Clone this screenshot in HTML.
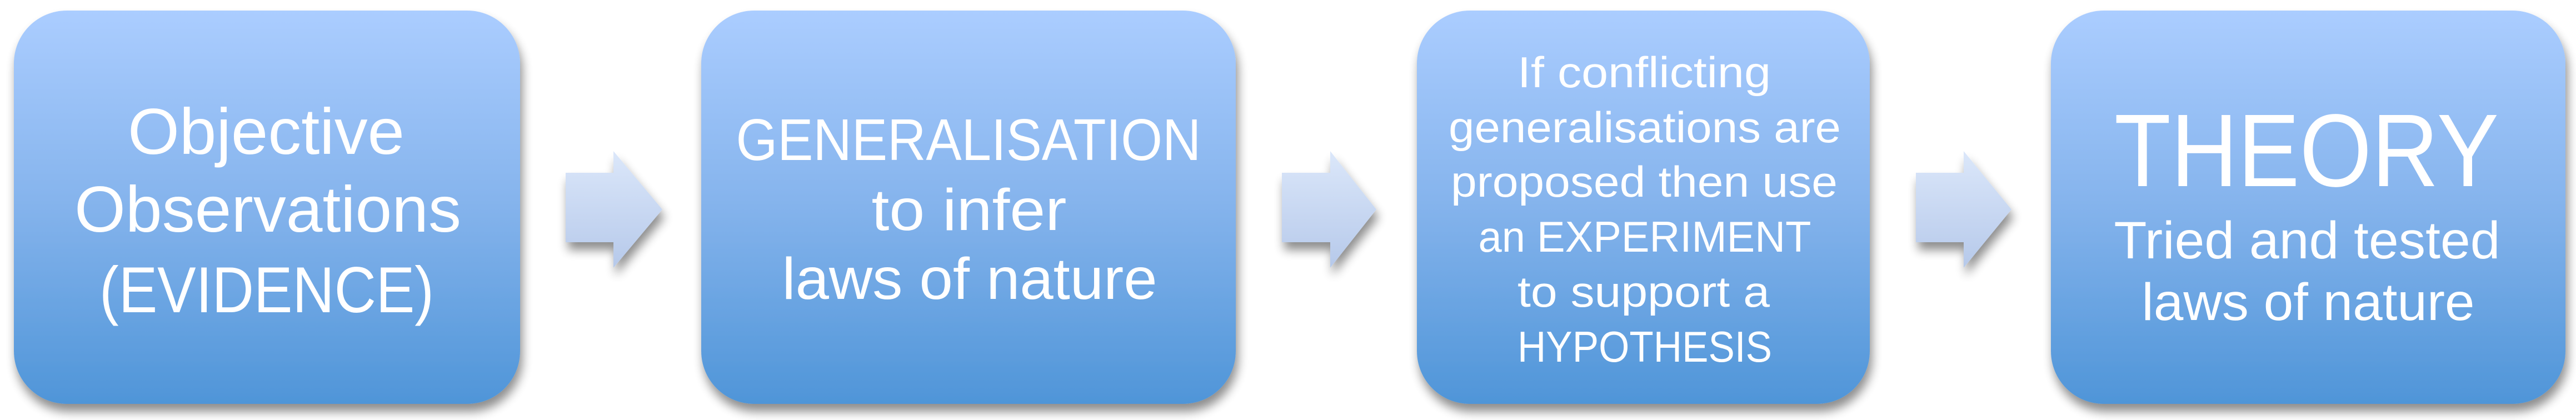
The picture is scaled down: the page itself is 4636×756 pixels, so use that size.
<!DOCTYPE html>
<html><head><meta charset="utf-8"><style>
html,body{margin:0;padding:0;background:#fff;width:4636px;height:756px;overflow:hidden}
svg{display:block}
text{font-family:"Liberation Sans",sans-serif;fill:#fff;text-anchor:middle}
</style></head><body>
<svg width="4636" height="756" viewBox="0 0 4636 756" xmlns="http://www.w3.org/2000/svg">
<defs>
<linearGradient id="bg" x1="0" y1="0" x2="0" y2="1">
<stop offset="0" stop-color="#abcdff"/><stop offset="0.5" stop-color="#84b3ec"/><stop offset="1" stop-color="#4f95d8"/>
</linearGradient>
<linearGradient id="ag" x1="0" y1="0" x2="0" y2="1">
<stop offset="0" stop-color="#dbe7fa"/><stop offset="1" stop-color="#b6c9ea"/>
</linearGradient>
<filter id="sh" x="-10%" y="-10%" width="120%" height="130%">
<feGaussianBlur in="SourceAlpha" stdDeviation="9"/>
<feOffset dx="4" dy="14" result="b"/>
<feComponentTransfer><feFuncA type="linear" slope="0.45"/></feComponentTransfer>
<feMerge><feMergeNode/><feMergeNode in="SourceGraphic"/></feMerge>
</filter>
</defs>
<g filter="url(#sh)">
<rect x="25" y="19" width="911" height="708" rx="95" ry="95" fill="url(#bg)"/>
<rect x="1262" y="19" width="962" height="708" rx="95" ry="95" fill="url(#bg)"/>
<rect x="2550" y="19" width="815" height="708" rx="95" ry="95" fill="url(#bg)"/>
<rect x="3691" y="19" width="926" height="708" rx="95" ry="95" fill="url(#bg)"/>
<polygon points="1018,311 1104,311 1104,272 1192,377 1104,482 1104,436 1018,436" fill="url(#ag)"/>
<polygon points="2307,311 2394,311 2394,272 2477,377 2394,482 2394,436 2307,436" fill="url(#ag)"/>
<polygon points="3448,311 3534,311 3534,272 3620,377 3534,482 3534,436 3448,436" fill="url(#ag)"/>
</g>
<g font-size="117">
<text x="479" y="277" textLength="498" lengthAdjust="spacingAndGlyphs">Objective</text>
<text x="482" y="417" textLength="696" lengthAdjust="spacingAndGlyphs">Observations</text>
<text x="480" y="562" textLength="602" lengthAdjust="spacingAndGlyphs">(EVIDENCE)</text>
</g>
<g font-size="106">
<text x="1743" y="288" textLength="837" lengthAdjust="spacingAndGlyphs">GENERALISATION</text>
<text x="1744" y="414" textLength="351" lengthAdjust="spacingAndGlyphs">to infer</text>
<text x="1745" y="538" textLength="675" lengthAdjust="spacingAndGlyphs">laws of nature</text>
</g>
<g font-size="78">
<text x="2959" y="157" textLength="456" lengthAdjust="spacingAndGlyphs">If conflicting</text>
<text x="2960" y="256" textLength="706" lengthAdjust="spacingAndGlyphs">generalisations are</text>
<text x="2959" y="354" textLength="696" lengthAdjust="spacingAndGlyphs">proposed then use</text>
<text x="2960" y="453" textLength="599" lengthAdjust="spacingAndGlyphs">an EXPERIMENT</text>
<text x="2958" y="552" textLength="454" lengthAdjust="spacingAndGlyphs">to support a</text>
<text x="2960" y="651" textLength="458" lengthAdjust="spacingAndGlyphs">HYPOTHESIS</text>
</g>
<text x="4151" y="335" font-size="186" textLength="692" lengthAdjust="spacingAndGlyphs">THEORY</text>
<g font-size="95">
<text x="4152" y="465" textLength="695" lengthAdjust="spacingAndGlyphs">Tried and tested</text>
<text x="4154" y="576" textLength="599" lengthAdjust="spacingAndGlyphs">laws of nature</text>
</g>
</svg>
</body></html>
